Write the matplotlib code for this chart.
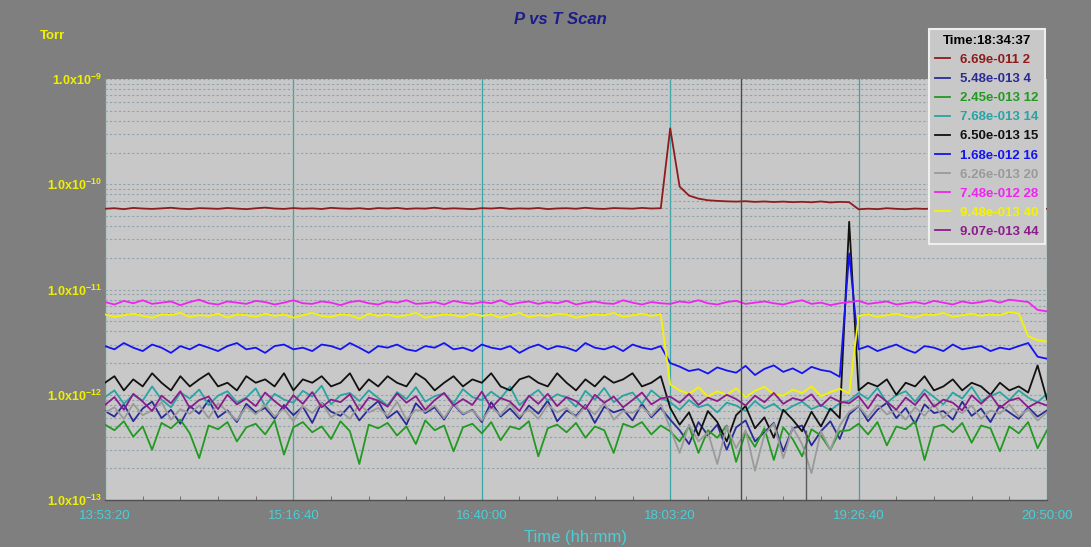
import numpy as np
import matplotlib
matplotlib.use("Agg")
import matplotlib.pyplot as plt
from matplotlib.ticker import MultipleLocator, FuncFormatter, LogLocator, NullFormatter

plt.rcParams['font.family'] = ['Liberation Sans', 'DejaVu Sans']
plt.rcParams['mathtext.fontset'] = 'custom'
plt.rcParams['mathtext.rm'] = 'Liberation Sans'
plt.rcParams['mathtext.bf'] = 'Liberation Sans:bold'

# scan start 13:53:20, one sample every 250 s, values in units of 1e-13 Torr
START = 13 * 3600 + 53 * 60 + 20
STEP = 250
cursor_label = "18:34:37"
cursor_time = 16877
dropout_time = 18604
dropout_top = 4.6e-13

masses = [2, 4, 12, 14, 15, 16, 20, 28, 40, 44]
readouts = ["6.69e-011", "5.48e-013", "2.45e-013", "7.68e-013", "6.50e-013",
            "1.68e-012", "6.26e-013", "7.48e-012", "9.48e-013", "9.07e-013"]
colors = ['#8e1c1c', '#2b2b96', '#229a22', '#2aa3a3', '#111111',
          '#1414f0', '#9a9a9a', '#f024f0', '#f4f400', '#8c1c8c']

p2 = [585, 592, 580, 596, 588, 583, 590, 598, 586, 581, 593, 589, 584, 595, 587, 580, 591, 600, 588, 583,
      594, 586, 590, 582, 597, 589, 585, 592, 581, 594, 588, 596, 583, 590, 587, 599, 584, 591, 586, 580,
      593, 588, 597, 584, 590, 586, 595, 581, 589, 592, 585, 598, 587, 583, 594, 590, 586, 596, 588, 592,
      3400, 950, 780, 730, 705, 695, 688, 684, 690, 680, 686, 678, 684, 676, 681, 674, 686, 672, 680, 675,
      578, 586, 580, 592, 584, 579, 588, 583, 590, 581, 587, 594, 582, 589, 585, 580, 591, 586, 583, 588, 584]
p4 = [7.0, 6.2, 8.1, 5.6, 7.4, 8.6, 6.0, 7.2, 5.3, 7.8, 6.6, 8.9, 6.1, 7.1, 5.5, 8.2, 6.8, 7.5, 5.9, 8.0,
      6.4, 7.7, 5.4, 8.4, 6.9, 6.3, 7.9, 5.7, 7.3, 8.7, 6.0, 7.0, 5.2, 8.3, 6.7, 7.6, 5.8, 8.1, 6.5, 7.2,
      5.5, 8.5, 6.2, 7.4, 5.9, 7.9, 6.6, 8.8, 5.6, 7.1, 6.3, 8.0, 5.4, 7.7, 6.8, 7.3, 5.7, 8.2, 6.1, 7.5,
      5.8, 4.6, 3.4, 5.5, 4.1, 5.2, 3.0, 4.9, 5.7, 3.6, 4.4, 5.4, 2.9, 4.8, 5.1, 3.3, 4.5, 5.6, 3.8,
      6.5, 7.8, 5.6, 7.2, 8.4, 6.0, 7.5, 5.3, 8.1, 6.7, 7.0, 5.8, 8.6, 6.3, 7.4, 5.5, 7.9, 6.8, 5.9, 7.6, 6.2, 7.1]
p12 = [5.2, 4.6, 5.6, 4.0, 5.0, 3.0, 5.4, 4.8, 5.8, 4.3, 2.5, 5.1, 4.7, 5.5, 3.6, 4.9, 5.3, 4.2, 5.7, 2.7,
       4.9, 5.5, 4.4, 5.0, 3.8, 5.6, 4.5, 2.2, 5.2, 4.8, 5.4, 4.1, 5.0, 3.4, 5.7, 4.6, 5.1, 2.9, 4.9, 5.3,
       4.3, 5.5, 3.7, 5.0, 4.7, 5.6, 2.6, 4.8, 5.2, 4.4, 5.4, 3.9, 5.0, 4.6, 2.8, 5.3, 4.9, 5.5, 4.2, 5.1,
       4.5, 3.6, 5.0, 2.8, 4.6, 3.9, 5.1, 2.3, 4.4, 3.2, 4.8, 2.4, 4.9, 3.8, 2.6, 4.7, 4.1, 3.0, 4.5,
       4.6, 5.3, 4.2, 5.5, 3.3, 5.0, 4.7, 5.6, 2.4, 4.9, 5.2, 4.4, 5.4, 3.5, 5.1, 4.8, 2.9, 5.0, 4.3, 5.5, 3.1, 4.6]
p14 = [9.5, 11.0, 8.2, 10.0, 8.8, 12.0, 9.0, 7.6, 10.5, 9.2, 11.2, 8.0, 9.8, 10.8, 8.5, 9.4, 11.5, 7.8, 10.2, 9.0,
       8.4, 10.9, 9.6, 12.2, 8.1, 9.9, 10.4, 8.7, 11.0, 9.3, 7.9, 10.6, 9.1, 11.8, 8.6, 9.7, 10.3, 8.3, 11.3, 9.5,
       8.9, 10.7, 9.2, 12.0, 8.0, 9.6, 11.1, 8.8, 10.1, 9.4, 7.7, 10.9, 9.0, 11.6, 8.5, 9.8, 10.5, 8.2, 11.0, 9.3,
       8.5, 7.2, 8.9, 7.6, 8.1, 6.8, 8.4, 7.9, 7.0, 8.7, 7.4, 8.2, 6.9, 7.8, 8.6, 7.3, 8.0, 7.1, 8.3,
       8.8, 10.4, 9.1, 11.6, 8.4, 9.9, 10.8, 8.6, 11.2, 9.5, 8.1, 10.5, 9.2, 11.9, 8.7, 9.7, 10.6, 8.9, 11.0, 9.4, 8.5, 10.2]
p15 = [13, 15, 11, 14, 12, 16, 13, 11, 15, 12, 14, 16, 12, 13, 11, 15, 13, 14, 12, 16,
       11, 14, 13, 15, 12, 13, 16, 11, 14, 12, 15, 13, 12, 16, 14, 11, 13, 15, 12, 14,
       13, 16, 12, 11, 14, 15, 13, 12, 16, 13, 11, 14, 12, 15, 13, 14, 16, 12, 13, 15,
       7.5, 5.2, 6.8, 4.1, 7.0, 5.5, 3.6, 6.4, 7.8, 4.8, 6.1, 3.9, 7.2, 5.8, 4.5, 6.9, 5.0, 7.4, 6.0,
       440, 11, 13, 12, 14, 10, 13, 12, 15, 11, 12, 14, 11, 13, 12, 10, 13, 11, 12, 10.5, 19, 9]
p16 = [29, 27, 31, 28, 26, 30, 28, 25, 29, 27, 30, 28, 26, 29, 31, 27, 28, 25, 29, 30,
       27, 28, 26, 30, 29, 27, 31, 28, 25, 29, 28, 30, 27, 26, 29, 28, 31, 27, 28, 26,
       30, 28, 27, 29, 25, 28, 30, 27, 29, 28, 26, 31, 28, 27, 29, 26, 30, 28, 27, 29,
       20, 18.5, 16.8, 17.5, 15.9, 18.2, 17.0, 16.2, 18.8, 15.4, 17.6, 19.0, 16.5, 17.8, 16.0, 18.4, 17.2, 16.6, 14.8,
       220, 27, 29, 26, 28, 30, 27, 25, 29, 28, 26, 30, 27, 28, 29, 26, 28, 27, 29, 31, 23, 22]
p20 = [6.8, 7.6, 5.9, 8.2, 6.4, 7.1, 8.5, 5.8, 7.3, 6.6, 7.9, 6.0, 8.3, 6.9, 5.7, 7.7, 6.5, 8.0, 6.2, 7.4,
       5.6, 7.8, 6.7, 8.4, 6.1, 7.0, 5.9, 8.1, 6.8, 7.5, 6.3, 8.6, 5.8, 7.2, 6.9, 7.9, 6.0, 8.2, 6.6, 7.1,
       5.7, 7.6, 6.4, 8.3, 6.2, 7.3, 5.9, 8.0, 6.8, 7.5, 6.1, 7.8, 6.5, 8.4, 5.8, 7.0, 6.7, 7.7, 6.3, 8.1,
       4.8, 2.8, 5.2, 3.6, 4.4, 2.2, 5.0, 3.1, 4.6, 1.9, 4.2, 5.3, 2.5, 4.9, 3.4, 1.8, 4.5, 3.0, 5.1,
       6.9, 7.8, 6.1, 8.0, 6.5, 7.2, 5.8, 7.6, 6.3, 8.2, 6.0, 7.4, 6.7, 7.9, 5.9, 7.1, 6.6, 8.1, 6.2, 7.3, 5.7, 6.8]
p28 = [76, 72, 78, 74, 79, 73, 75, 77, 71, 76, 80, 74, 72, 77, 75, 73, 78, 76, 72, 75,
       79, 74, 73, 77, 75, 71, 76, 78, 74, 72, 77, 75, 79, 73, 74, 76, 72, 78, 75, 73,
       76, 74, 79, 72, 75, 77, 73, 76, 74, 78, 72, 75, 77, 74, 73, 79, 75, 72, 76, 74,
       73, 77, 75, 79, 74, 72, 76, 78, 73, 75, 77, 74, 72, 76, 79, 73, 75, 71, 74, 76,
       78, 73, 75, 77, 72, 74, 76, 73, 78, 75, 72, 77, 74, 76, 79, 75, 80, 78, 76, 64, 62]
p40 = [58, 55, 57, 59, 56, 54, 58, 57, 60, 55, 57, 56, 59, 54, 58, 57, 55, 59, 56, 58,
       54, 57, 60, 56, 55, 58, 57, 53, 59, 56, 58, 55, 57, 60, 54, 56, 58, 57, 55, 59,
       56, 58, 54, 57, 60, 55, 57, 56, 59, 58, 54, 56, 58, 57, 60, 55, 57, 59, 56, 58,
       12.5, 11.0, 10.2, 11.8, 9.6, 10.8, 10.0, 11.5, 9.5, 10.9, 11.9, 10.1, 9.8, 11.2, 10.4, 12.0, 9.7, 10.6, 11.4, 10.3,
       56, 58, 55, 57, 59, 56, 54, 58, 57, 60, 55, 57, 59, 56, 58, 57, 61, 59, 36, 33, 32]
p44 = [8.0, 9.5, 7.2, 10.2, 8.6, 7.0, 9.8, 8.3, 10.8, 7.5, 8.9, 9.6, 7.3, 10.0, 8.1, 9.2, 7.8, 10.5, 8.7, 7.4,
       9.9, 8.2, 10.6, 7.6, 9.0, 8.5, 10.1, 7.1, 9.4, 8.8, 7.7, 10.3, 8.4, 9.7, 7.2, 8.9, 10.4, 7.9, 9.1, 8.0,
       10.7, 7.5, 9.3, 8.6, 7.0, 9.8, 8.2, 10.2, 7.8, 9.5, 8.7, 7.3, 10.0, 8.4, 9.6, 7.6, 8.9, 10.5, 8.1, 9.2,
       9.6, 8.4, 10.2, 8.0, 9.4, 8.7, 10.0, 9.1, 7.9, 9.8, 8.5, 10.4, 8.2, 9.3, 8.8, 10.1, 7.8, 9.5, 8.6,
       8.3, 9.7, 7.4, 10.1, 8.6, 7.2, 9.4, 8.0, 10.3, 7.7, 9.0, 8.4, 7.1, 9.9, 8.2, 10.0, 7.5, 8.8, 9.3, 7.6, 8.5, 7.9]

series = [p2, p4, p12, p14, p15, p16, p20, p28, p40, p44]

fig = plt.figure(figsize=(10.91, 5.47), dpi=100, facecolor='#7f7f7f')
ax = fig.add_axes([105 / 1091, 1 - 500 / 547, 942 / 1091, 421 / 547])
ax.set_facecolor('#c8c8c8')

for vals, m, val, c in zip(series, masses, readouts, colors):
    v = np.array(vals, dtype=float) * 1e-13
    t = np.arange(len(v)) * STEP
    ax.plot(t, v, color=c, lw=1.3, label=f"{val} {m}")

ax.axvline(cursor_time, color='#4c4c4c', lw=1.0)
ax.vlines(dropout_time, 1e-13, dropout_top, color='#5a5a5a', lw=1.0)

ax.set_yscale('log')
ax.set_ylim(1e-13, 1e-9)
ax.set_xlim(0, 25000)

ax.yaxis.set_major_locator(LogLocator(base=10, numticks=10))
ax.yaxis.set_minor_locator(LogLocator(base=10, subs=np.arange(2, 10), numticks=50))
ax.yaxis.set_minor_formatter(NullFormatter())
ax.yaxis.set_major_formatter(FuncFormatter(
    lambda y, p: r'$\mathbf{1.0x10^{%d}}$' % int(round(np.log10(y)))))

ax.xaxis.set_major_locator(MultipleLocator(5000))
ax.xaxis.set_minor_locator(MultipleLocator(1000))


def clock(s, pos=None):
    s = int(round(START + s))
    return f"{s // 3600:02d}:{s % 3600 // 60:02d}:{s % 60:02d}"


ax.xaxis.set_major_formatter(FuncFormatter(clock))

ax.grid(True, axis='x', which='major', color='#3aa6a8', lw=0.9)
ax.grid(True, axis='y', which='both', color='#8fa3ac', lw=0.8, ls=(0, (2, 2)))
ax.set_axisbelow(True)

ax.tick_params(axis='y', which='both', length=0, pad=2, labelsize=9, labelcolor='#f0f000')
ax.tick_params(axis='x', which='major', length=0, pad=7, labelsize=9.5, labelcolor='#48d0d8')
ax.tick_params(axis='x', which='minor', direction='in', length=3, color='#606060')

for side in ['top', 'right', 'left']:
    ax.spines[side].set_visible(False)
ax.spines['bottom'].set_color('#505050')
ax.spines['bottom'].set_linewidth(1.0)

ax.set_xlabel("Time (hh:mm)", color='#48d0d8', fontsize=12, labelpad=6)

fig.text(560 / 1091, 1 - 19 / 547, "P vs T Scan", color='#1c1c8a', fontsize=12,
         fontweight='bold', fontstyle='italic', ha='center', va='center')
fig.text(40 / 1091, 1 - 36 / 547, "Torr", color='#f0f000', fontsize=9.5,
         fontweight='bold', ha='left', va='center')

leg = ax.legend(loc='upper right', bbox_to_anchor=(1045 / 1091, 1 - 29 / 547),
                bbox_transform=fig.transFigure, borderaxespad=0,
                title="Time:" + cursor_label, labelcolor='linecolor',
                prop={'weight': 'bold', 'size': 9.5}, title_fontsize=9.5,
                handlelength=1.1, handletextpad=0.8, labelspacing=0.52,
                fancybox=False, framealpha=1, facecolor='#c8c8c8',
                edgecolor='#eeeeee', borderpad=0.45)
leg.get_title().set_fontweight('bold')
leg.get_frame().set_linewidth(1.5)
for h in leg.legend_handles:
    h.set_linewidth(1.3)

fig.savefig("out.png", dpi=100, facecolor=fig.get_facecolor())
